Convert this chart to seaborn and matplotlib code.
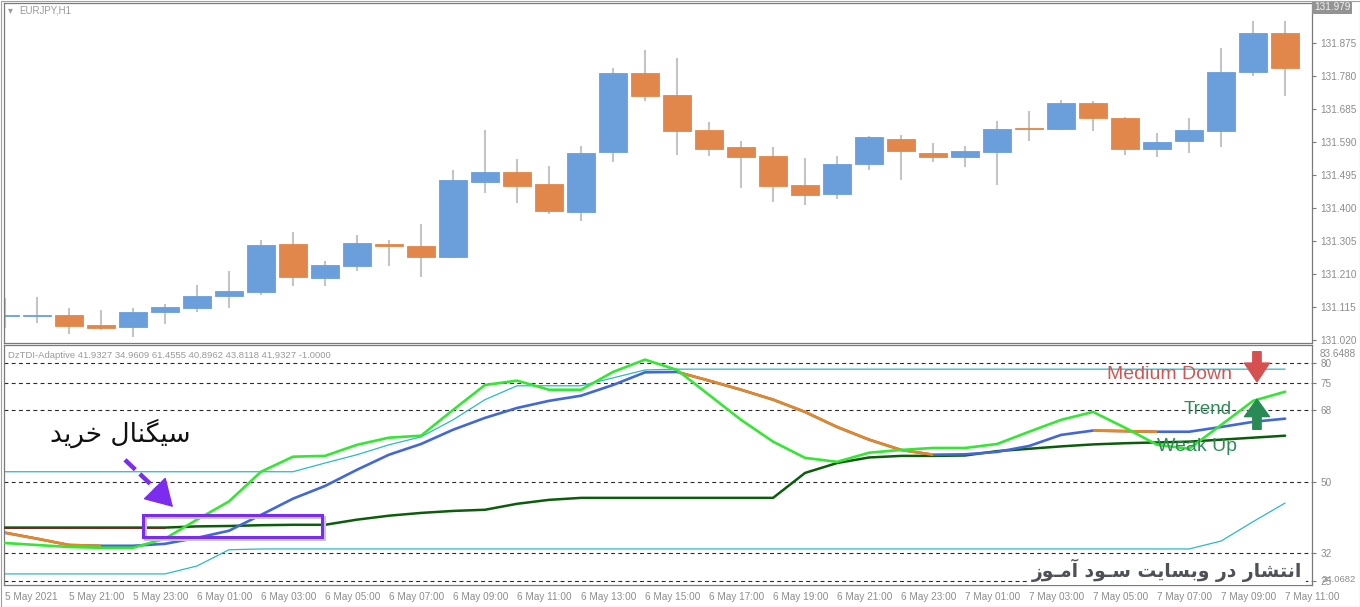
import matplotlib
matplotlib.use("Agg")
import numpy as np
import pandas as pd
import matplotlib.pyplot as plt
import matplotlib.transforms as mtransforms
from matplotlib.patches import Rectangle
import seaborn as sns

# ---- data -------------------------------------------------------------
# EURJPY H1 candles, 5 May 19:00 .. 7 May 11:00
opens = [131.090, 131.091, 131.093, 131.064, 131.059, 131.100, 131.114, 131.146, 131.160, 131.297,
         131.200, 131.235, 131.297, 131.292, 131.261, 131.477, 131.505, 131.470, 131.389, 131.563,
         131.790, 131.726, 131.625, 131.577, 131.551, 131.467, 131.442, 131.526, 131.600, 131.560,
         131.549, 131.563, 131.632, 131.629, 131.703, 131.661, 131.572, 131.595, 131.623, 131.793,
         131.905]
closes = [131.092, 131.093, 131.062, 131.056, 131.102, 131.116, 131.148, 131.162, 131.294, 131.203,
          131.237, 131.300, 131.290, 131.261, 131.482, 131.505, 131.465, 131.393, 131.559, 131.790,
          131.724, 131.623, 131.572, 131.549, 131.465, 131.439, 131.528, 131.605, 131.566, 131.549,
          131.565, 131.628, 131.628, 131.703, 131.661, 131.571, 131.591, 131.625, 131.793, 131.905,
          131.805]
highs = [131.142, 131.145, 131.114, 131.107, 131.112, 131.125, 131.179, 131.220, 131.309, 131.331,
         131.249, 131.323, 131.309, 131.355, 131.510, 131.625, 131.542, 131.522, 131.579, 131.803,
         131.856, 131.834, 131.649, 131.594, 131.576, 131.544, 131.551, 131.608, 131.611, 131.589,
         131.580, 131.651, 131.681, 131.712, 131.710, 131.664, 131.618, 131.661, 131.861, 131.939,
         131.939]
lows = [131.056, 131.070, 131.037, 131.050, 131.030, 131.066, 131.102, 131.114, 131.150, 131.176,
        131.177, 131.220, 131.234, 131.203, 131.256, 131.445, 131.416, 131.383, 131.362, 131.534,
        131.710, 131.553, 131.551, 131.459, 131.419, 131.408, 131.426, 131.510, 131.480, 131.532,
        131.520, 131.467, 131.594, 131.625, 131.621, 131.553, 131.549, 131.560, 131.575, 131.781,
        131.723]

# DzTDI-Adaptive buffers
price_line = [34.5, 34.0, 33.5, 33.3, 33.3, 35.6, 40.4, 45.0, 52.5, 56.3,
              56.5, 59.3, 61.1, 61.6, 68.1, 74.4, 75.5, 73.2, 73.2, 77.7,
              80.8, 78.2, 71.9, 65.6, 60.1, 56.0, 55.0, 57.3, 58.0, 58.5,
              58.5, 59.5, 62.6, 65.6, 67.6, 63.6, 59.3, 58.3, 64.3, 70.4,
              72.7]
signal_line = [37.1, 35.6, 34.0, 33.8, 33.8, 34.3, 35.8, 37.6, 41.6, 45.7,
               48.9, 53.0, 56.8, 59.5, 63.1, 66.1, 68.6, 70.4, 71.7, 74.4,
               77.6, 77.7, 75.5, 73.2, 70.7, 67.6, 63.8, 60.6, 58.0, 56.8,
               56.9, 57.5, 59.0, 61.8, 62.9, 62.75, 62.6, 62.6, 63.8, 65.1,
               65.9]
base_line = [38.4, 38.4, 38.4, 38.4, 38.4, 38.4, 38.7, 38.8, 39.0, 39.1,
             39.1, 40.4, 41.4, 42.1, 42.6, 42.9, 44.4, 45.4, 45.9, 45.9,
             45.9, 45.9, 45.9, 45.9, 45.9, 52.2, 54.7, 56.1, 56.5, 56.5,
             56.6, 57.7, 58.3, 58.9, 59.4, 59.7, 59.9, 60.1, 60.6, 61.1,
             61.6]
base_down = [True, True, True, True, True] + [False] * 35   # segment state
upper_band = [52.5, 52.5, 52.5, 52.5, 52.5, 52.5, 52.5, 52.5, 52.5, 52.5,
              54.7, 56.8, 59.3, 61.3, 65.6, 70.7, 74.2, 74.2, 74.2, 76.2,
              78.2, 78.4, 78.4, 78.4, 78.4, 78.4, 78.4, 78.4, 78.4, 78.4,
              78.4, 78.4, 78.4, 78.4, 78.4, 78.4, 78.4, 78.4, 78.4, 78.4,
              78.4]
lower_band = [26.7, 26.7, 26.7, 26.7, 26.7, 26.7, 28.7, 32.8, 33.0, 33.0,
              33.0, 33.0, 33.0, 33.0, 33.0, 33.0, 33.0, 33.0, 33.0, 33.0,
              33.0, 33.0, 33.0, 33.0, 33.0, 33.0, 33.0, 33.0, 33.0, 33.0,
              33.0, 33.0, 33.0, 33.0, 33.0, 33.0, 33.0, 33.0, 35.0, 39.9,
              44.6]
levels = [80, 75, 68, 50, 32, 25]

price_ticks = [131.020, 131.115, 131.210, 131.305, 131.400, 131.495, 131.590, 131.685, 131.780, 131.875]
time_labels = ["5 May 2021", "5 May 21:00", "5 May 23:00", "6 May 01:00", "6 May 03:00",
               "6 May 05:00", "6 May 07:00", "6 May 09:00", "6 May 11:00", "6 May 13:00",
               "6 May 15:00", "6 May 17:00", "6 May 19:00", "6 May 21:00", "6 May 23:00",
               "7 May 01:00", "7 May 03:00", "7 May 05:00", "7 May 07:00", "7 May 09:00",
               "7 May 11:00"]

bars = np.arange(len(opens))
df = pd.DataFrame({"bar": bars, "open": opens, "close": closes, "high": highs, "low": lows,
                   "price": price_line, "signal": signal_line, "base": base_line,
                   "up_band": upper_band, "dn_band": lower_band})

# ---- persian text shaping (matplotlib has no arabic shaping / bidi) -----
FORMS = {
    "\u0627": ("\uFE8D", "\uFE8E", None, None),      # alef
    "\u0622": ("\uFE81", "\uFE82", None, None),      # alef madda
    "\u0628": ("\uFE8F", "\uFE90", "\uFE91", "\uFE92"),
    "\u062A": ("\uFE95", "\uFE96", "\uFE97", "\uFE98"),
    "\u062E": ("\uFEA5", "\uFEA6", "\uFEA7", "\uFEA8"),
    "\u062F": ("\uFEA9", "\uFEAA", None, None),
    "\u0631": ("\uFEAD", "\uFEAE", None, None),
    "\u0632": ("\uFEAF", "\uFEB0", None, None),
    "\u0633": ("\uFEB1", "\uFEB2", "\uFEB3", "\uFEB4"),
    "\u0634": ("\uFEB5", "\uFEB6", "\uFEB7", "\uFEB8"),
    "\u0644": ("\uFEDD", "\uFEDE", "\uFEDF", "\uFEE0"),
    "\u0645": ("\uFEE1", "\uFEE2", "\uFEE3", "\uFEE4"),
    "\u0646": ("\uFEE5", "\uFEE6", "\uFEE7", "\uFEE8"),
    "\u0648": ("\uFEED", "\uFEEE", None, None),
    "\u06CC": ("\uFBFC", "\uFBFD", "\uFBFE", "\uFBFF"),
    "\u06AF": ("\uFB92", "\uFB93", "\uFB94", "\uFB95"),
    "\u0640": ("\u0640", "\u0640", "\u0640", "\u0640"),  # tatweel
}


def shape_fa(text):
    out = []
    for j, ch in enumerate(text):
        if ch not in FORMS:
            out.append(ch)
            continue
        iso, fin, ini, med = FORMS[ch]
        prev = text[j - 1] if j > 0 else ""
        nxt = text[j + 1] if j + 1 < len(text) else ""
        jp = prev in FORMS and FORMS[prev][2] is not None
        jn = ini is not None and nxt in FORMS
        if jp and jn:
            out.append(med)
        elif jp:
            out.append(fin)
        elif jn:
            out.append(ini)
        else:
            out.append(iso)
    return "".join(reversed(out))


# ---- style ------------------------------------------------------------
sns.set_style("white")
plt.rcParams["font.family"] = ["Liberation Sans", "DejaVu Sans"]

W, H = 1360, 607
fig = plt.figure(figsize=(W / 100, H / 100), dpi=100)
fig.patch.set_facecolor("white")


def box(x0, y0, x1, y1):
    return [x0 / W, 1 - y1 / H, (x1 - x0) / W, (y1 - y0) / H]


ax1 = fig.add_axes(box(4, 3, 1312, 343))
ax2 = fig.add_axes(box(4, 345, 1312, 585))

gray_txt = "#8c8c8c"
for ax in (ax1, ax2):
    for s in ax.spines.values():
        s.set_color("#7a7a7a")
        s.set_linewidth(0.9)
    ax.yaxis.tick_right()
    ax.tick_params(axis="y", direction="out", length=3, width=0.8, colors="#7a7a7a",
                   labelcolor=gray_txt, labelsize=7.2, pad=3)
    ax.set_xlim(-0.03, 40.84)

# outer frame like the terminal window
fig.add_artist(Rectangle((0.5 / W, 0.5 / H), (W - 1) / W, (H - 1) / H, transform=fig.transFigure,
                         fill=False, ec="#a0a0a0", lw=0.8))

# ---- candles ----------------------------------------------------------
blue_c, orange_c = "#6a9fdb", "#e2874b"
up = df["close"] >= df["open"]
body_col = np.where(up, blue_c, orange_c)
ax1.vlines(df["bar"], df["low"], df["high"], color="#c4c4c4", lw=1.5, zorder=1)
ax1.bar(df["bar"], (df["close"] - df["open"]).abs(), bottom=df[["open", "close"]].min(axis=1),
        width=0.875, color=body_col, edgecolor=body_col, lw=0.6, zorder=2)
ax1.set_ylim(131.012, 131.991)
ax1.set_yticks(price_ticks)
ax1.set_yticklabels([f"{t:.3f}" for t in price_ticks])
ax1.set_xticks([])
ax1.set_xlabel("")
trans1 = mtransforms.blended_transform_factory(ax1.transAxes, ax1.transData)
ax1.text(1.0015, 131.979, "131.979", transform=trans1, fontsize=7.2, color="#f2f2f2",
         va="center", ha="left", bbox=dict(boxstyle="square,pad=0.15", fc="#939393", ec="none"))
ax1.text(0.003, 0.978, "\u25BE", transform=ax1.transAxes, fontsize=7, color="#999999",
         family="DejaVu Sans", va="center", ha="left")
ax1.text(0.0115, 0.978, "EURJPY,H1", transform=ax1.transAxes, fontsize=7, color="#999999",
         va="center", ha="left")

# ---- indicator --------------------------------------------------------
for lvl in levels:
    ax2.axhline(lvl, color="#2a2a2a", lw=0.8, ls=(0, (3.5, 3)), zorder=1)

cyan = "#2bb9c3"
sns.lineplot(data=df, x="bar", y="up_band", ax=ax2, color=cyan, lw=0.9, zorder=2)
sns.lineplot(data=df, x="bar", y="dn_band", ax=ax2, color=cyan, lw=0.9, zorder=2)

sns.lineplot(data=df, x="bar", y="base", ax=ax2, color="#0b5c0b", lw=1.8, zorder=3)
for i, dn in enumerate(base_down):
    if dn:
        ax2.plot(bars[i:i + 2], base_line[i:i + 2], color="#7a2222", lw=1.3, zorder=3.1)

sns.lineplot(data=df, x="bar", y="signal", ax=ax2, color="#4268d6", lw=1.9, zorder=4)
sig = np.array(signal_line)
for i in range(len(sig) - 1):
    if sig[i + 1] < sig[i]:
        ax2.plot(bars[i:i + 2], sig[i:i + 2], color="#e8871e", lw=1.9, zorder=4.1,
                 solid_capstyle="butt")

sns.lineplot(data=df, x="bar", y="price", ax=ax2, color="#35e635", lw=1.9, zorder=5)

ax2.set_ylim(23.9, 84.5)
ax2.set_yticks(levels)
ax2.set_yticklabels([str(l) for l in levels])
ax2.set_ylabel("")
ax2.set_xlabel("")
ax2.set_xticks(bars[::2])
ax2.set_xticklabels(time_labels)
ax2.tick_params(axis="x", direction="out", length=3, width=0.8, colors="#7a7a7a",
                labelcolor=gray_txt, labelsize=7.2, pad=2)
for lbl in ax2.get_xticklabels():
    lbl.set_ha("left")

trans2 = mtransforms.blended_transform_factory(ax2.transAxes, ax2.transData)
ax2.text(1.006, 82.2, "83.6488", transform=trans2, fontsize=7.2, color=gray_txt, va="center")
ax2.text(1.0075, 25.4, "24.0682", transform=trans2, fontsize=6.8, color=gray_txt, va="center")
ax2.text(0.003, 0.958, "DzTDI-Adaptive 41.9327 34.9609 61.4555 40.8962 43.8118 41.9327 -1.0000",
         transform=ax2.transAxes, fontsize=6.8, color="#999999", va="center", ha="left")

# trend labels and arrows
red_t, green_t = "#cf5656", "#2e8b57"
ax2.text(38.34, 77.0, "Medium Down", color=red_t, fontsize=14, ha="right", va="center", zorder=6)
ax2.text(38.34, 68.1, "Trend", color=green_t, fontsize=13.5, ha="right", va="center", zorder=6)
ax2.text(38.5, 58.8, "Weak Up", color=green_t, fontsize=14, ha="right", va="center", zorder=6)
ax2.annotate("", xy=(39.12, 75.2), xytext=(39.12, 82.8),
             arrowprops=dict(arrowstyle="simple,head_length=1.35,head_width=1.8,tail_width=0.6",
                             mutation_scale=10, fc="#d65050", ec="#d65050", shrinkA=0, shrinkB=0),
             zorder=6)
ax2.annotate("", xy=(39.12, 70.8), xytext=(39.12, 63.2),
             arrowprops=dict(arrowstyle="simple,head_length=1.25,head_width=1.8,tail_width=0.6",
                             mutation_scale=10, fc="#2a8a55", ec="#2a8a55", shrinkA=0, shrinkB=0),
             zorder=6)

# buy-signal annotation
purple = "#7b2cef"
shadow = ax2.transData + mtransforms.ScaledTranslation(2 / 100, -2 / 100, fig.dpi_scale_trans)
ax2.add_patch(Rectangle((4.31, 36.1), 5.6, 5.5, fill=False, ec="#c8c8d2", lw=2.2, zorder=6.9,
                        transform=shadow))
ax2.add_patch(Rectangle((4.31, 36.1), 5.6, 5.5, fill=False, ec=purple, lw=2.2, zorder=7))
ax2.plot([3.75, 4.78], [55.5, 47.6], color=purple, lw=3.2, ls=(0, (3.2, 1.4)), zorder=7,
         solid_capstyle="butt", dash_capstyle="butt")
ax2.annotate("", xy=(5.25, 43.6), xytext=(4.75, 47.7),
             arrowprops=dict(arrowstyle="-|>,head_length=1.1,head_width=0.65", mutation_scale=16,
                             fc=purple, ec=purple, lw=1, shrinkA=0, shrinkB=0), zorder=7)
ax2.text(3.6, 62.3, shape_fa("\u0633\u06CC\u06AF\u0646\u0627\u0644 \u062E\u0631\u06CC\u062F"),
         family="DejaVu Sans", fontsize=19, color="#111111", ha="center", va="center", zorder=7)

ax2.text(40.53, 27.7,
         shape_fa("\u0627\u0646\u062A\u0634\u0627\u0631 \u062F\u0631 \u0648\u0628\u0633\u0627\u06CC\u062A "
                  "\u0633\u0640\u0648\u062F \u0622\u0645\u0640\u0648\u0632"),
         family="DejaVu Sans", fontweight="bold", fontsize=13.5, color="#4f5058",
         ha="right", va="center", zorder=8,
         bbox=dict(boxstyle="square,pad=0.2", fc="white", ec="none"))

fig.savefig("out.png", dpi=100, facecolor="white")
